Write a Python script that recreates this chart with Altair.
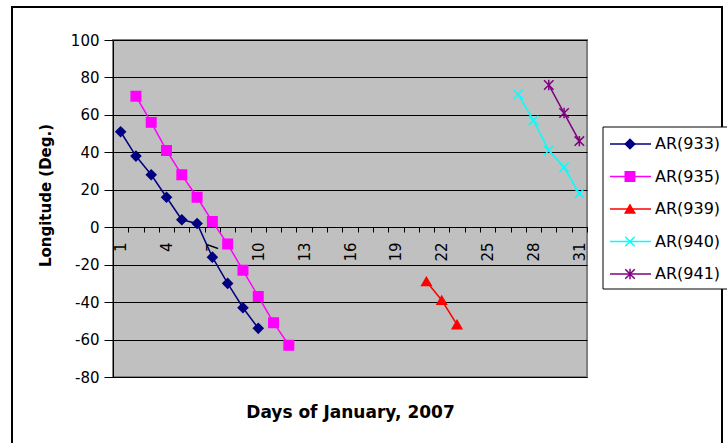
import altair as alt
import pandas as pd

FONT = "DejaVu Sans"

series_names = ["AR(933)", "AR(935)", "AR(939)", "AR(940)", "AR(941)"]
series_colors = ["#000080", "#FF00FF", "#FF0000", "#00FFFF", "#800080"]
X_PATH = "M-1,-1L1,1M-1,1L1,-1"
STAR_PATH = "M-1,-1L1,1M-1,1L1,-1M0,-1.1L0,1.1"
series_shapes = ["diamond", "square", "triangle-up", X_PATH, STAR_PATH]

ar933_days = [1, 2, 3, 4, 5, 6, 7, 8, 9, 10]
ar933_lon = [51, 38, 28, 16, 4, 2, -16, -30, -43, -54]
ar935_days = [2, 3, 4, 5, 6, 7, 8, 9, 10, 11, 12]
ar935_lon = [70, 56, 41, 28, 16, 3, -9, -23, -37, -51, -63]
ar939_days = [21, 22, 23]
ar939_lon = [-29, -39, -52]
ar940_days = [27, 28, 29, 30, 31]
ar940_lon = [71, 57, 41, 32, 18]
ar941_days = [29, 30, 31]
ar941_lon = [76, 61, 46]

all_days = list(range(1, 32))
y_ticks = [-80, -60, -40, -20, 0, 20, 40, 60, 80, 100]

rows = []
for name, days, lons in zip(
    series_names,
    [ar933_days, ar935_days, ar939_days, ar940_days, ar941_days],
    [ar933_lon, ar935_lon, ar939_lon, ar940_lon, ar941_lon],
):
    for d, v in zip(days, lons):
        rows.append({"series": name, "day": d, "lon": v})
df = pd.DataFrame(rows)
legend_df = pd.DataFrame({"series": series_names})

W, H = 474, 337
half_band = W / 31 / 2

color_scale = alt.Scale(domain=series_names, range=series_colors)
shape_scale = alt.Scale(domain=series_names, range=series_shapes)

x_enc = alt.X(
    "day:Q",
    scale=alt.Scale(domain=[0.5, 31.5], nice=False, zero=False),
    axis=alt.Axis(
        values=all_days,
        tickCount=len(all_days),
        tickOffset=half_band,
        labelOffset=-half_band,
        labelExpr="(datum.value - 1) % 3 == 0 ? datum.label : ''",
        labelAngle=270,
        labelAlign="right",
        labelBaseline="middle",
        labelPadding=10,
        labelOverlap=False,
        labelFlush=False,
        tickSize=5,
        offset=-150,
        grid=False,
        domainColor="black",
        tickColor="black",
        labelFont=FONT,
        labelFontSize=15,
        labelColor="black",
        title="Days of January, 2007",
        titleFont=FONT,
        titleFontSize=17,
        titleFontWeight="bold",
        titleColor="black",
        titleX=W / 2,
        titleY=190,
        titleAlign="center",
        titleBaseline="alphabetic",
    ),
)
y_enc = alt.Y(
    "lon:Q",
    scale=alt.Scale(domain=[-80, 100], nice=False),
    axis=alt.Axis(
        values=y_ticks,
        tickCount=len(y_ticks),
        labelOverlap=False,
        labelExpr="datum.value + ''",
        tickSize=9,
        labelPadding=5,
        grid=True,
        gridColor="black",
        gridWidth=1,
        domainColor="black",
        tickColor="black",
        labelFont=FONT,
        labelFontSize=15,
        labelColor="black",
        title="Longitude (Deg.)",
        titleFont=FONT,
        titleFontSize=15,
        titleFontWeight="bold",
        titleColor="black",
        titleAngle=270,
        titleX=-68,
        titleY=155,
        titleAlign="center",
        titleBaseline="middle",
    ),
)

base = alt.Chart(df)
lines = base.mark_line(strokeWidth=1.5).encode(
    x=x_enc,
    y=y_enc,
    color=alt.Color("series:N", scale=color_scale, legend=None),
    detail="series:N",
)
points = base.mark_point(filled=True, size=90, strokeWidth=1.5, opacity=1).encode(
    x=alt.X("day:Q"),
    y=alt.Y("lon:Q"),
    color=alt.Color("series:N", scale=color_scale, legend=None),
    stroke=alt.Stroke("series:N", scale=color_scale, legend=None),
    shape=alt.Shape("series:N", scale=shape_scale, legend=None),
)
main = alt.layer(lines, points)

one = pd.DataFrame({"a": [0]})
frame = alt.Chart(one).mark_rect(fillOpacity=0, stroke="black", strokeWidth=2).encode(
    x=alt.value(-101), x2=alt.value(609), y=alt.value(-33), y2=alt.value(420)
)
leg_box = alt.Chart(one).mark_rect(fill="white", stroke="black", strokeWidth=1).encode(
    x=alt.value(490), x2=alt.value(625), y=alt.value(87), y2=alt.value(249)
)
leg_y = alt.Y(
    "series:N",
    scale=alt.Scale(type="point", domain=series_names, range=[104, 234], padding=0),
    axis=None,
)
leg_base = alt.Chart(legend_df)
leg_lines = leg_base.mark_rule(strokeWidth=1.5).encode(
    x=alt.value(497),
    x2=alt.value(538),
    y=leg_y,
    color=alt.Color("series:N", scale=color_scale, legend=None),
)
leg_points = leg_base.mark_point(filled=True, size=90, strokeWidth=1.5, opacity=1).encode(
    x=alt.value(517),
    y=leg_y,
    color=alt.Color("series:N", scale=color_scale, legend=None),
    stroke=alt.Stroke("series:N", scale=color_scale, legend=None),
    shape=alt.Shape("series:N", scale=shape_scale, legend=None),
)
leg_text = leg_base.mark_text(
    align="left", baseline="middle", font=FONT, fontSize=16, color="black"
).encode(x=alt.value(542), y=leg_y, text="series:N")
legend = alt.layer(frame, leg_box, leg_lines, leg_points, leg_text)

chart = (
    alt.layer(main, legend)
    .resolve_scale(y="independent")
    .properties(
        width=W,
        height=H,
        autosize=alt.AutoSizeParams(type="none"),
        padding={"left": 113, "top": 40, "right": 140, "bottom": 66},
        background="white",
    )
    .configure_view(fill="#C0C0C0", stroke="#808080", strokeWidth=2)
)

chart.save("out.html", embed_options={"renderer": "svg", "actions": False})
